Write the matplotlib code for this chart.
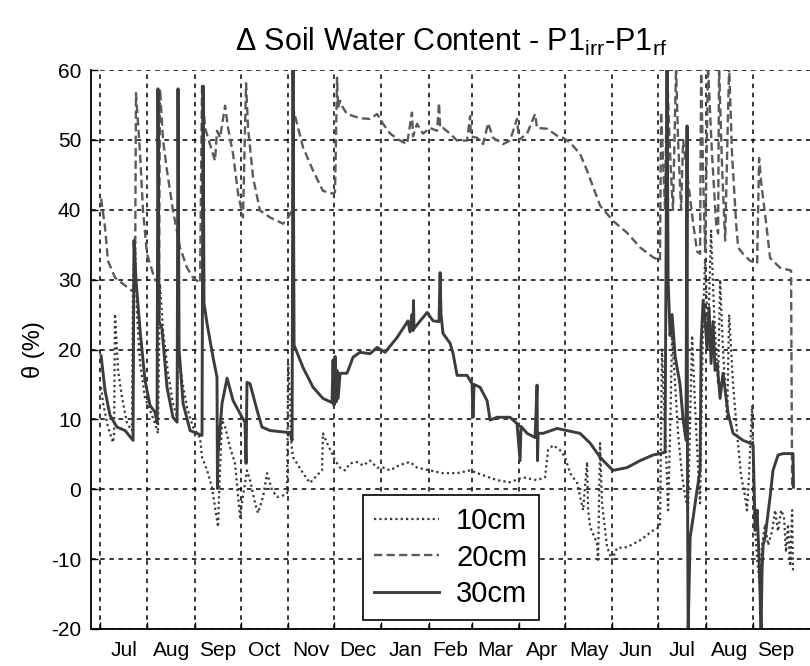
import numpy as np
import matplotlib
matplotlib.use('Agg')
import matplotlib.pyplot as plt

plt.rcParams['font.family'] = ['Liberation Sans', 'DejaVu Sans']
plt.rcParams['mathtext.fontset'] = 'custom'
plt.rcParams['mathtext.rm'] = 'Liberation Sans'
plt.rcParams['mathtext.it'] = 'Liberation Sans:italic'
plt.rcParams['axes.unicode_minus'] = False

# x axis: days since 1 July of the first year
month_starts = [0, 31, 62, 92, 123, 153, 184, 215, 243, 274, 304, 335, 365, 396, 427, 457]
month_labels = ['Jul', 'Aug', 'Sep', 'Oct', 'Nov', 'Dec', 'Jan', 'Feb', 'Mar',
                'Apr', 'May', 'Jun', 'Jul', 'Aug', 'Sep']
y_ticks = [-20, -10, 0, 10, 20, 30, 40, 50, 60]

# 10 cm (dotted)
day_10 = [0.7, 2.0, 5.2, 8.5, 9.2, 9.8, 11.8, 14.4, 17.7, 20.9, 21.6, 22.9, 24.2, 26.2,
          29.4, 32.7, 36.0, 37.9, 39.2, 41.2, 44.5, 47.7, 50.4, 51.0, 53.6, 56.9, 60.8,
          65.4, 66.7, 70.0, 73.2, 75.2, 77.2, 77.8, 79.8, 81.8, 85.0, 88.3, 90.3, 91.6,
          93.5, 96.1, 98.1, 101.4, 103.3, 106.6, 109.2, 112.5, 115.8, 119.7, 122.3, 123.0,
          124.3, 124.9, 126.2, 128.8, 132.8, 137.3, 141.9, 145.2, 145.8, 148.5, 151.7,
          153.7, 157.0, 160.2, 163.5, 168.1, 172.0, 176.6, 181.2, 185.1, 189.7, 196.2,
          202.7, 207.3, 215.8, 224.3, 233.5, 242.0, 250.5, 259.6, 268.1, 276.6, 285.8,
          291.0, 293.0, 296.3, 300.8, 304.1, 307.4, 312.0, 315.9, 318.5, 319.2, 320.5,
          325.0, 325.7, 327.0, 328.3, 331.6, 334.8, 338.1, 344.7, 353.2, 361.7, 366.2,
          367.5, 368.9, 370.2, 371.5, 372.8, 374.1, 376.1, 378.0, 380.6, 382.6, 384.6,
          385.9, 387.2, 389.1, 391.1, 392.4, 394.4, 395.7, 397.6, 399.6, 401.6, 404.2,
          405.5, 407.4, 410.1, 411.4, 414.0, 416.6, 419.2, 421.8, 423.1, 424.4, 426.4,
          427.7, 429.7, 431.6, 432.9, 434.9, 436.9, 439.5, 441.5, 443.4, 445.4, 447.3,
          448.6, 449.9, 451.3, 452.6, 453.2]
theta_10 = [14.6, 12.3, 8.9, 6.7, 8.0, 25.1, 17.0, 13.1, 9.4, 8.4, 30.0, 36.0, 25.0, 18.0,
            13.1, 11.3, 9.4, 8.0, 29.4, 22.7, 16.6, 12.3, 10.3, 20.3, 15.6, 11.7, 8.9,
            7.4, 4.6, 2.7, 0.3, -2.6, -5.4, -1.0, 9.9, 8.9, 6.0, 3.7, -1.1, -4.0,
            -1.0, 2.7, 1.3, -2.0, -3.4, -1.1, 2.3, -0.1, -1.1, -0.9, -0.6, 18.0,
            13.0, 7.0, 4.6, 3.7, 2.3, 0.9, 2.0, 2.7, 8.0, 6.6, 5.1,
            4.1, 3.1, 2.7, 3.7, 3.9, 3.4, 4.1, 3.1, 3.1, 2.7, 3.5,
            3.9, 3.1, 2.7, 2.3, 2.3, 2.7, 2.0, 1.3, 1.0, 1.7, 1.3,
            1.7, 5.6, 6.3, 5.6, 4.6, 2.3, 0.9, -3.0, 3.9, -3.0, -5.4,
            -7.7, -10.1, 6.6, -2.0, -8.3, -10.1, -8.4, -8.3, -7.3, -5.9, -5.4,
            20.0, 12.0, 5.0, -3.0, 8.0, 22.0, 15.0, 8.0, 2.0, -1.0, -3.0,
            10.0, 22.0, 12.0, 3.0, -2.0, 25.0, 33.0, 22.0, 37.0, 25.0, 15.0,
            30.0, 20.0, 10.0, 25.0, 15.0, 8.0, 2.0, -1.0, -3.0, 2.0, 12.0,
            -3.0, -10.0, -14.0, -8.0, -5.0, -8.0, -6.0, -3.0, -6.0, -3.0, -4.0,
            -9.0, -5.0, -11.0, -3.0, -12.0]

# 20 cm (dashed)
day_20 = [0.7, 3.3, 5.2, 9.8, 15.0, 20.9, 22.9, 23.5, 26.2, 28.1, 30.7, 34.0, 36.0, 38.6,
          39.2, 41.2, 43.8, 47.7, 52.3, 56.9, 60.8, 65.4, 66.7, 68.7, 71.9, 75.2, 76.5,
          78.5, 81.8, 83.7, 87.0, 90.3, 93.5, 95.5, 96.8, 100.1, 104.6, 111.2, 119.7,
          123.0, 125.6, 126.9, 132.8, 139.3, 145.8, 152.4, 153.7, 155.0, 155.7, 157.0,
          158.9, 161.5, 170.0, 176.6, 181.2, 185.1, 189.7, 196.2, 200.8, 204.0, 204.7,
          207.3, 211.2, 215.8, 220.4, 221.7, 222.4, 224.3, 228.9, 233.5, 240.0, 242.0,
          242.5, 246.6, 250.5, 253.8, 257.0, 263.6, 268.1, 272.7, 274.0, 279.3, 284.5,
          285.8, 292.3, 298.9, 302.8, 307.4, 313.9, 318.5, 327.0, 335.5, 344.7, 353.2,
          361.7, 366.2, 366.9, 368.2, 369.5, 370.8, 372.1, 373.4, 374.7, 376.7, 378.0,
          380.0, 381.3, 384.6, 387.9, 390.5, 392.4, 393.1, 394.4, 395.7, 397.6, 400.2,
          402.9, 404.2, 404.8, 406.8, 408.8, 411.4, 413.3, 416.0, 417.3, 420.5, 425.1,
          429.7, 431.0, 432.3, 434.9, 438.2, 444.7, 451.9, 452.6]
theta_20 = [41.6, 37.4, 32.7, 30.3, 29.4, 28.4, 29.0, 56.7, 48.0, 39.9, 33.7, 31.3, 29.9, 30.0,
            57.3, 50.0, 45.6, 39.9, 34.6, 31.7, 30.3, 29.5, 57.7, 51.7, 49.4, 47.0, 51.3,
            50.3, 54.9, 51.7, 48.0, 42.3, 38.9, 58.1, 51.7, 44.6, 39.9, 38.9, 38.0,
            38.9, 39.9, 54.0, 48.9, 45.6, 42.7, 42.3, 42.5, 58.9, 54.6, 55.6,
            54.6, 53.7, 53.1, 53.0, 53.7, 52.3, 50.9, 49.9, 49.4, 53.9, 50.5,
            52.3, 50.9, 51.7, 51.3, 55.3, 51.7, 51.7, 50.9, 49.9, 49.9, 53.4,
            50.5, 50.3, 49.4, 52.4, 50.3, 49.4, 49.9, 53.0, 50.0, 50.9, 53.7,
            51.7, 51.6, 50.6, 50.3, 49.6, 48.0, 45.6, 40.6, 38.4, 36.7, 34.6,
            33.2, 32.7, 54.0, 47.0, 40.0, 60.5, 52.0, 45.0, 40.0, 60.5, 50.0,
            40.0, 50.0, 44.0, 38.0, 34.0, 33.7, 60.5, 45.0, 34.0, 60.5, 48.0,
            38.0, 36.6, 60.5, 46.0, 35.6, 60.5, 48.0, 38.0, 34.6, 33.7, 32.7,
            32.3, 47.4, 44.0, 39.4, 33.1, 31.7, 31.3, 0.2]

# 30 cm (solid)
day_30 = [0.7, 3.3, 6.5, 11.1, 16.4, 21.6, 22.2, 23.5, 26.2, 29.4, 32.7, 36.0, 37.3, 37.9,
          38.6, 40.5, 43.8, 47.7, 50.4, 51.0, 51.7, 54.3, 58.9, 63.4, 66.7, 67.4, 68.0,
          70.0, 73.9, 76.5, 76.8, 77.2, 79.8, 83.1, 87.0, 92.9, 94.8, 95.5, 96.1, 98.1,
          102.7, 105.9, 111.2, 124.3, 125.6, 126.2, 126.9, 127.5, 132.8, 139.3, 145.8,
          151.7, 152.4, 153.0, 153.7, 154.4, 155.0, 155.7, 157.0, 161.5, 165.5, 170.0,
          176.6, 181.2, 186.4, 194.2, 201.4, 202.7, 204.0, 204.7, 205.0, 205.3, 213.9,
          217.8, 221.7, 222.4, 223.0, 224.3, 228.9, 230.9, 233.5, 240.0, 243.3, 243.9,
          244.6, 248.5, 253.1, 255.1, 259.6, 268.1, 272.7, 274.7, 275.3, 279.3, 284.5,
          285.8, 286.1, 286.5, 289.7, 298.9, 305.4, 313.9, 320.5, 327.0, 333.5, 335.5,
          344.7, 353.2, 361.7, 366.2, 369.5, 370.8, 371.5, 372.8, 374.1, 376.1, 379.3,
          381.3, 383.2, 383.9, 384.2, 384.6, 385.9, 387.9, 390.5, 392.4, 393.1, 394.4,
          395.7, 397.0, 398.3, 399.6, 400.9, 402.2, 403.6, 405.5, 407.4, 410.7, 414.0,
          420.5, 425.1, 427.1, 428.4, 429.7, 431.0, 432.3, 432.9, 433.6, 434.9, 438.2,
          440.1, 443.4, 446.7, 453.2, 453.5]
theta_30 = [19.1, 14.1, 10.6, 8.9, 8.4, 7.0, 35.6, 30.0, 22.7, 15.6, 12.0, 11.0, 9.5, 57.3,
            24.0, 23.0, 14.6, 10.3, 9.6, 57.3, 20.0, 12.3, 8.4, 8.0, 7.7, 57.7, 26.6,
            23.7, 18.9, 16.0, 0.1, 5.0, 12.3, 15.9, 12.7, 10.3, 9.6, 3.7, 15.3, 15.1,
            11.3, 8.9, 8.4, 8.1, 7.0, 60.5, 20.6, 20.3, 17.4, 14.6, 13.0,
            12.4, 18.5, 12.0, 19.0, 12.5, 17.0, 13.0, 16.6, 16.6, 18.9, 19.6,
            19.4, 20.3, 19.6, 21.7, 24.1, 22.5, 25.0, 22.7, 27.0, 23.0, 25.3,
            24.1, 24.0, 31.0, 25.0, 22.3, 20.9, 19.4, 16.3, 16.3, 15.1, 10.3,
            15.0, 14.6, 12.7, 9.9, 10.3, 10.3, 9.4, 4.1, 9.0, 8.0, 7.4,
            14.9, 4.1, 8.0, 8.0, 8.7, 8.4, 8.0, 6.6, 4.6, 3.1, 2.7,
            3.1, 4.1, 4.9, 5.1, 5.3, 60.5, 30.0, 22.0, 25.0, 19.0, 15.0,
            10.0, 7.0, 52.0, 0.0, -20.5, -6.9, -4.0, 0.0, 2.7, 21.0, 27.0,
            24.0, 20.0, 26.0, 18.0, 24.0, 17.0, 18.0, 13.0, 16.6, 10.9, 8.0,
            7.0, 6.6, 6.3, -5.9, -3.0, -10.0, -20.5, -12.0, -8.0, -6.9, -1.1,
            2.7, 4.9, 5.1, 5.1, 0.3]

fig = plt.figure(figsize=(8.1, 6.66), dpi=100)
ax = fig.add_axes([91 / 810, 37 / 666, 721 / 810, 559 / 666])

ax.plot(day_10, theta_10, color='#383838', lw=1.6, linestyle=(0, (1, 1.4)), label='10cm')
ax.plot(day_20, theta_20, color='#5a5a5a', lw=1.7, linestyle=(0, (3.5, 1.8)), label='20cm')
ax.plot(day_30, theta_30, color='#3c3c3c', lw=2.1, linestyle='-', label='30cm')

ax.set_xlim(-5.9, 465.6)
ax.set_ylim(-20, 60)

mids = [(month_starts[i] + month_starts[i + 1]) / 2 for i in range(len(month_labels))]
ax.set_xticks(month_starts[:len(month_labels)])
ax.set_xticklabels([])
ax.set_xticks(mids, minor=True)
ax.set_xticklabels(month_labels, minor=True)
ax.set_yticks(y_ticks)
ax.tick_params(axis='x', which='minor', length=0, labelsize=15, pad=9)
ax.tick_params(axis='x', which='major', direction='in', length=5, width=1)
ax.tick_params(axis='y', which='major', direction='in', length=5, width=1, labelsize=15, pad=7)

ax.grid(True, which='major', color='black', linestyle=(0, (3, 3)), lw=1.1)
ax.set_axisbelow(True)

for s in ['top', 'right']:
    ax.spines[s].set_visible(False)
for s in ['left', 'bottom']:
    ax.spines[s].set_linewidth(1.3)

ax.set_title('Δ Soil Water Content - P$1_{\\mathrm{irr}}$-P$1_{\\mathrm{rf}}$', fontsize=22, pad=14)
ax.set_ylabel('θ (%)', fontsize=17, labelpad=4)

leg = ax.legend(loc='lower left', bbox_to_anchor=(0.377, 0.016), fontsize=21, frameon=True,
                fancybox=False, edgecolor='black', framealpha=1, borderaxespad=0,
                handlelength=2.2, labelspacing=0.3, borderpad=0.4, handletextpad=0.6)
leg.get_frame().set_linewidth(1.2)

fig.savefig('out.png', dpi=100)
